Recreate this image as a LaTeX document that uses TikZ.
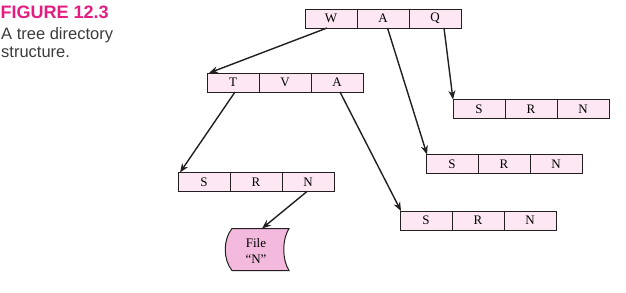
\documentclass[tikz,border=0pt]{standalone}
\usepackage{fontspec}
\setmainfont{Liberation Serif}
\newfontfamily\capfont{Liberation Sans}
\usepackage{tikz}
\usetikzlibrary{arrows.meta,positioning,calc}
\definecolor{cellPink}{RGB}{253,231,243}
\definecolor{filePink}{RGB}{244,186,221}
\definecolor{figMagenta}{RGB}{228,30,128}
\definecolor{capGray}{RGB}{60,60,60}
\definecolor{lineDark}{RGB}{35,31,32}

% one directory record: three cells side by side
\newcommand{\dirrec}[5]{%
  \node[cell] (#1-1) at (#2) {#3};
  \node[cell, right=0pt of #1-1] (#1-2) {#4};
  \node[cell, right=0pt of #1-2] (#1-3) {#5};
}

\begin{document}
\begin{tikzpicture}[
    x=1pt, y=-1pt,
    cell/.style={draw=lineDark, line width=1pt, fill=cellPink,
      minimum width=52pt, minimum height=19pt, inner sep=0pt,
      outer sep=0pt, font=\fontsize{13}{14}\selectfont},
    link/.style={-{Stealth[length=9pt,width=7pt]}, line width=1.4pt,
      draw=lineDark},
    captext/.style={anchor=base west, inner sep=0pt, text=capGray,
      font=\capfont\fontsize{16.5}{18}\selectfont}
  ]
  \useasboundingbox (0,0) rectangle (626,292);

  % Caption
  \node[anchor=base west, inner sep=0pt, text=figMagenta,
    font=\capfont\bfseries\fontsize{18}{18}\selectfont] (fig) at (0.5,18)
    {FIGURE 12.3};
  \node[captext] (cap1) at (1,39) {A tree directory};
  \node[captext] (cap2) at (1,57) {structure.};

  % Directory records
  \dirrec{root}{331,18.5}{W}{A}{Q}
  \dirrec{tva}{233,82.5}{T}{V}{A}
  \dirrec{srnT}{204,182}{S}{R}{N}
  \dirrec{srnQ}{479,109}{S}{R}{N}
  \dirrec{srnA}{452,164}{S}{R}{N}
  \dirrec{srnB}{426,220.5}{S}{R}{N}

  % File
  \begin{scope}[shift={(256,249.5)}]
    \draw[lineDark, line width=1pt, fill=filePink]
      (-24,-21) -- (33,-21) .. controls (26,-10) and (26,10) .. (33,21)
      -- (-24,21) .. controls (-33,10) and (-33,-10) .. (-24,-21) -- cycle;
    \node[align=center, inner sep=0pt, font=\fontsize{13}{16}\selectfont]
      (file) at (0,1) {File\\``N''};
    \coordinate (filetop) at (6,-21);
  \end{scope}

  % Links
  \draw[link] ([xshift=-4pt]root-1.south) -- ([xshift=2pt]tva-1.north west);
  \draw[link] ([xshift=4.5pt]root-2.south) -- ([xshift=1pt]srnA-1.north west);
  \draw[link] ([xshift=9pt]root-3.south) -- (srnQ-1.north west);
  \draw[link] ([xshift=2pt]tva-1.south) -- ([xshift=2pt]srnT-1.north west);
  \draw[link] ([xshift=3pt]tva-3.south) -- ([xshift=1pt]srnB-1.north west);
  \draw[link] ([xshift=-1pt]srnT-3.south) -- (filetop);
\end{tikzpicture}
\end{document}
